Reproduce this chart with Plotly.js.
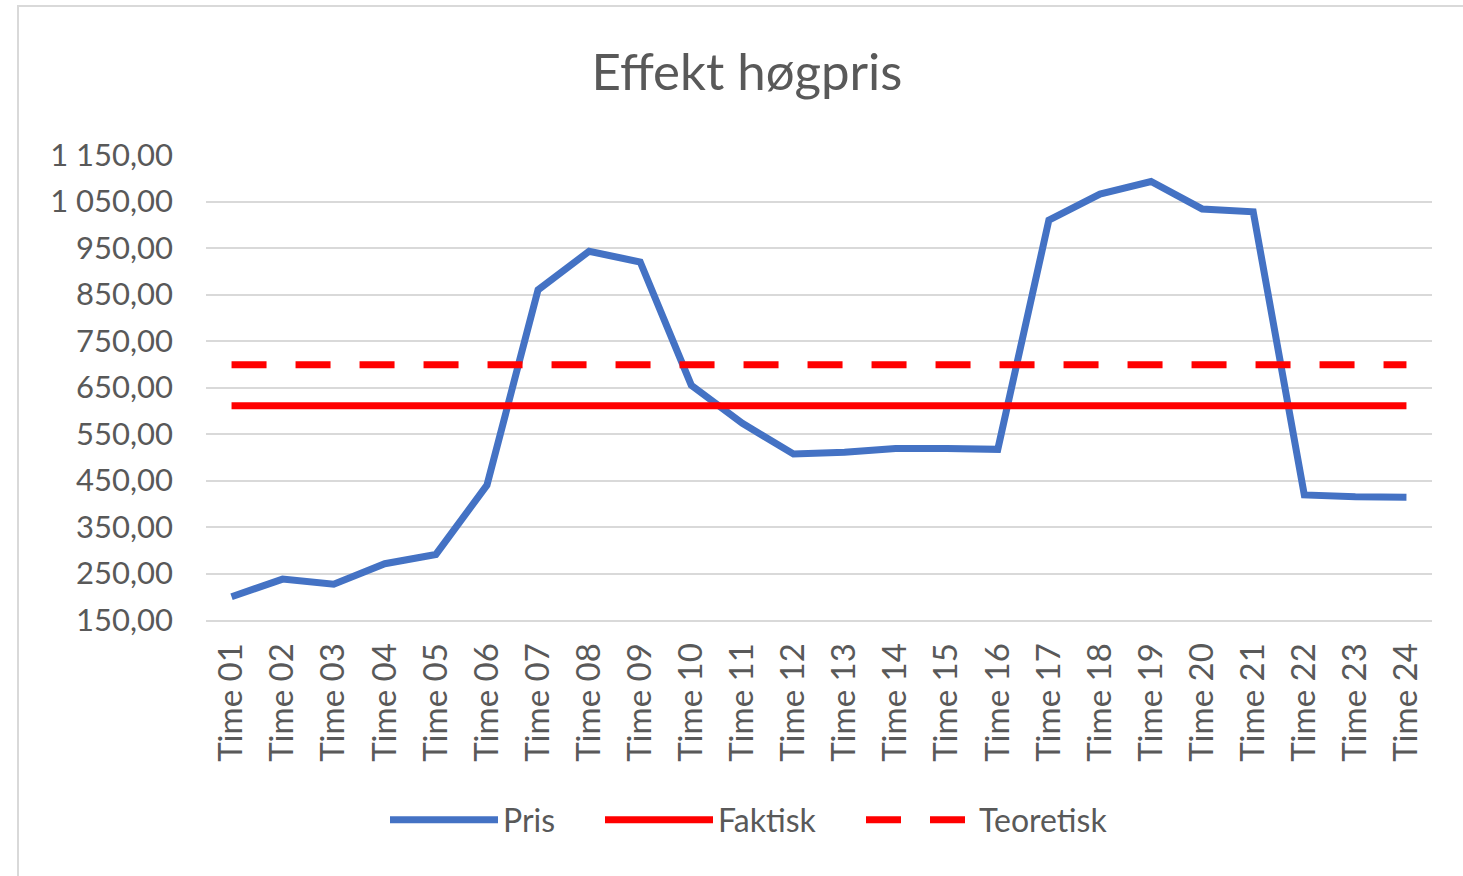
<!DOCTYPE html>
<html>
<head>
<meta charset="utf-8">
<script src="https://cdn.plot.ly/plotly-3.0.1.min.js"></script>
<style>
  html, body { margin: 0; padding: 0; background: #fff; overflow: hidden; }
  #myPlot { width: 1463px; height: 876px; }
  #frame { position: absolute; left: 17px; top: 5px; width: 1500px; height: 900px;
           border: 2px solid #d9d9d9; pointer-events: none; }
</style>
</head>
<body>
<div id="myPlot"></div>
<div id="frame"></div>
<script>
// hours
var timer = ["Time 01","Time 02","Time 03","Time 04","Time 05","Time 06","Time 07","Time 08",
             "Time 09","Time 10","Time 11","Time 12","Time 13","Time 14","Time 15","Time 16",
             "Time 17","Time 18","Time 19","Time 20","Time 21","Time 22","Time 23","Time 24"];

var pris = [200, 238, 227, 271, 291, 440, 860, 943, 920, 655, 573, 507,
            511, 519, 519, 517, 1010, 1066, 1093, 1034, 1028, 419, 415, 414];

var faktisk = [611, 611, 611, 611, 611, 611, 611, 611, 611, 611, 611, 611,
               611, 611, 611, 611, 611, 611, 611, 611, 611, 611, 611, 611];

var teoretisk = [699, 699, 699, 699, 699, 699, 699, 699, 699, 699, 699, 699,
                 699, 699, 699, 699, 699, 699, 699, 699, 699, 699, 699, 699];

var yTicks = [150, 250, 350, 450, 550, 650, 750, 850, 950, 1050, 1150];

var data = [
  {x: timer, y: pris, name: "Pris", mode: "lines", legend: "legend",
   line: {color: "#4472c4", width: 7}},
  {x: timer, y: faktisk, name: "Faktisk", mode: "lines", legend: "legend2",
   line: {color: "#ff0000", width: 7}},
  {x: timer, y: teoretisk, name: "Teoretisk", mode: "lines", legend: "legend3",
   line: {color: "#ff0000", width: 7, dash: "35px,29px"}}
];

// one legend box per entry, so the spacing follows the original
function legendAt(px) {
  return {orientation: "h", x: (px - 206) / 1226, xanchor: "left", xref: "paper",
          y: -0.43, yanchor: "middle", itemwidth: 108,
          bgcolor: "rgba(0,0,0,0)", font: {size: 32, color: "#595959"}};
}

var layout = {
  width: 1463, height: 876,
  margin: {l: 206, r: 31, t: 155, b: 256},
  paper_bgcolor: "#fff", plot_bgcolor: "#fff",
  separators: ", ",
  font: {family: "Lato, 'Open Sans', sans-serif", color: "#595959", size: 31},
  title: {text: "Effekt høgpris", font: {size: 51, color: "#595959"},
          xref: "container", x: 747 / 1463, xanchor: "center",
          yref: "container", y: 1 - 72 / 876, yanchor: "middle"},
  xaxis: {type: "category", range: [-0.5, 23.5], tickangle: -90,
          showgrid: false, showline: true, linecolor: "#d9d9d9", linewidth: 2,
          ticks: "", ticklabelstandoff: 8,
          tickfont: {size: 33, color: "#595959"}, fixedrange: true},
  yaxis: {range: [150, 1150], tickvals: yTicks, tickformat: ",.2f",
          showgrid: true, gridcolor: "#d9d9d9", gridwidth: 2, zeroline: false,
          ticks: "", ticklabelstandoff: 32,
          tickfont: {size: 31, color: "#595959"}, fixedrange: true},
  showlegend: true,
  legend: legendAt(385),
  legend2: legendAt(600),
  legend3: legendAt(861)
};

Plotly.newPlot("myPlot", data, layout, {displayModeBar: false, staticPlot: true});
</script>
</body>
</html>
